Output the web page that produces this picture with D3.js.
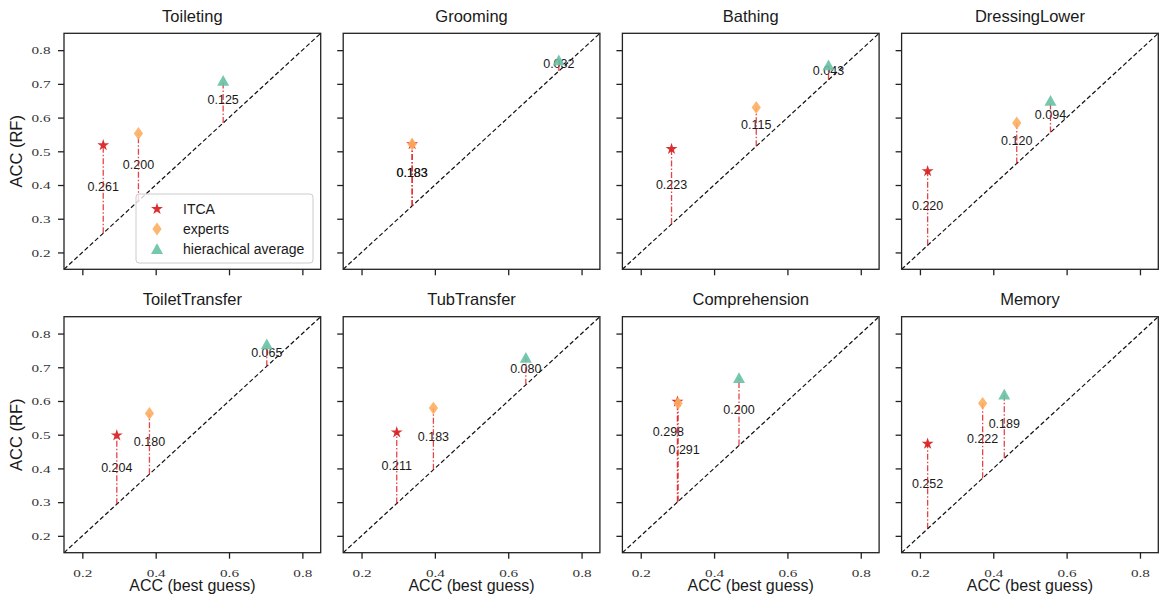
<!DOCTYPE html>
<html>
<head>
<meta charset="utf-8">
<script src="https://cdn.jsdelivr.net/npm/d3@7"></script>
<style>
  html, body { margin: 0; padding: 0; background: #fff; }
  svg { display: block; }
</style>
</head>
<body>
<svg id="chart" width="1160" height="605"></svg>
<script>
// ---------------- data ----------------
const categories = ["Toileting", "Grooming", "Bathing", "DressingLower",
                    "ToiletTransfer", "TubTransfer", "Comprehension", "Memory"];
const seriesNames = ["ITCA", "experts", "hierachical average"];

// x = ACC (best guess), y = ACC (RF)
const itcaX    = [0.257, 0.338, 0.284, 0.221, 0.294, 0.296, 0.300, 0.221];
const itcaY    = [0.518, 0.521, 0.507, 0.441, 0.498, 0.507, 0.598, 0.473];
const itcaDiff = ["0.261", "0.183", "0.223", "0.220", "0.204", "0.211", "0.298", "0.252"];

const expertsX    = [0.353, 0.338, 0.515, 0.464, 0.383, 0.396, 0.302, 0.371];
const expertsY    = [0.553, 0.521, 0.630, 0.584, 0.563, 0.579, 0.593, 0.593];
const expertsDiff = ["0.200", "0.183", "0.115", "0.120", "0.180", "0.183", "0.291", "0.222"];

const hierX    = [0.584, 0.738, 0.712, 0.556, 0.703, 0.648, 0.468, 0.430];
const hierY    = [0.709, 0.770, 0.755, 0.650, 0.768, 0.728, 0.668, 0.619];
const hierDiff = ["0.125", "0.032", "0.043", "0.094", "0.065", "0.080", "0.200", "0.189"];

const xTicks = [0.2, 0.4, 0.6, 0.8];
const yTicks = [0.2, 0.3, 0.4, 0.5, 0.6, 0.7, 0.8];
const axisDomain = [0.15, 0.85];
const xLabel = "ACC (best guess)";
const yLabel = "ACC (RF)";

// ---------------- layout / style ----------------
const colors = { ITCA: "#d7191c", experts: "#fdae61", hier: "#66c2a5" };
const panelW = 256.7, panelH = 236;
const lefts = [64, 343.2, 622.4, 901.6];
const tops = [33.3, 316.7];
const sans = "'Liberation Sans', Arial, Helvetica, sans-serif";
const serif = "'Liberation Serif', 'Times New Roman', serif";

const svg = d3.select("#chart");

const x = d3.scaleLinear().domain(axisDomain).range([0, panelW]);
const y = d3.scaleLinear().domain(axisDomain).range([panelH, 0]);

// marker paths
const starPath = d3.symbol().type(d3.symbolStar).size(44)();
const diamondPath = "M0,-6.4L4.6,0L0,6.4L-4.6,0Z";
const trianglePath = "M0,-5.8L6,5L-6,5Z";

const markerDefs = [
  { key: "ITCA", path: starPath, color: colors.ITCA },
  { key: "experts", path: diamondPath, color: colors.experts },
  { key: "hier", path: trianglePath, color: colors.hier }
];

categories.forEach((cat, i) => {
  const row = Math.floor(i / 4), col = i % 4;
  const g = svg.append("g").attr("transform", `translate(${lefts[col]},${tops[row]})`);
  const clipId = "clip" + i;
  g.append("clipPath").attr("id", clipId)
    .append("rect").attr("width", panelW).attr("height", panelH);

  // title
  g.append("text")
    .attr("x", panelW / 2).attr("y", -11.5)
    .attr("text-anchor", "middle")
    .attr("font-family", sans).attr("font-size", 16.5).attr("fill", "#1a1a1a")
    .text(cat);

  // axes
  const xAxis = d3.axisBottom(x).tickValues(xTicks).tickSize(6).tickPadding(4)
    .tickFormat(row === 1 ? d3.format(".1f") : () => "");
  const yAxis = d3.axisLeft(y).tickValues(yTicks).tickSize(6).tickPadding(7.5)
    .tickFormat(col === 0 ? d3.format(".1f") : () => "");

  const gx = g.append("g").attr("transform", `translate(0,${panelH})`).call(xAxis);
  const gy = g.append("g").call(yAxis);
  [gx, gy].forEach(a => {
    a.select(".domain").remove();
    a.selectAll(".tick line").attr("stroke", "#222").attr("stroke-width", 1.3);
    a.selectAll(".tick text")
      .attr("font-family", serif).attr("font-size", 10.5).attr("fill", "#333")
      .attr("textLength", 19).attr("lengthAdjust", "spacingAndGlyphs");
  });
  gx.selectAll(".tick text").attr("y", 17).attr("dy", "0.7em");
  gy.selectAll(".tick text").attr("dy", "0.36em");

  const plot = g.append("g").attr("clip-path", `url(#${clipId})`);

  // diagonal y = x
  plot.append("line")
    .attr("x1", x(axisDomain[0])).attr("y1", y(axisDomain[0]))
    .attr("x2", x(axisDomain[1])).attr("y2", y(axisDomain[1]))
    .attr("stroke", "#111").attr("stroke-width", 1.2)
    .attr("stroke-dasharray", "4.5,2.5");

  const pts = [
    { key: "ITCA", x: itcaX[i], y: itcaY[i], label: itcaDiff[i] },
    { key: "experts", x: expertsX[i], y: expertsY[i], label: expertsDiff[i] },
    { key: "hier", x: hierX[i], y: hierY[i], label: hierDiff[i] }
  ];

  // labels (placed at the midpoint of each residual; simple de-overlap)
  const placed = [];
  const labelOrder = [1, 2, 0];
  labelOrder.forEach(k => {
    const p = pts[k];
    let lx = x(p.x), ly = (y(p.x) + y(p.y)) / 2 - 2;
    const w = 31, h = 13;
    placed.forEach(q => {
      if (q.text !== p.label && Math.abs(q.x - lx) < w && Math.abs(q.y - ly) < h) {
        ly = q.y - 18; lx = lx - 9; q.x = q.x + 6;
      }
    });
    placed.push({ x: lx, y: ly, text: p.label });
  });
  plot.selectAll("text.diff").data(placed).join("text")
    .attr("class", "diff")
    .attr("x", d => d.x).attr("y", d => d.y)
    .attr("dominant-baseline", "central")
    .attr("text-anchor", "middle")
    .attr("font-family", sans).attr("font-size", 12.5).attr("fill", "#1a1a1a")
    .text(d => d.text);

  // residual lines
  plot.selectAll("line.res").data(pts).join("line")
    .attr("class", "res")
    .attr("x1", d => x(d.x)).attr("x2", d => x(d.x))
    .attr("y1", d => y(d.x)).attr("y2", d => y(d.y))
    .attr("stroke", "#e0141c").attr("stroke-opacity", 0.8)
    .attr("stroke-width", 1.3)
    .attr("stroke-dasharray", "6,2,1.5,2");

  // markers
  markerDefs.forEach(m => {
    const p = pts.find(d => d.key === m.key);
    plot.append("path")
      .attr("d", m.path)
      .attr("transform", `translate(${x(p.x)},${y(p.y)})`)
      .attr("fill", m.color).attr("fill-opacity", 0.9);
  });

  // frame
  g.append("rect").attr("width", panelW).attr("height", panelH)
    .attr("fill", "none").attr("stroke", "#222").attr("stroke-width", 1.3);

  // axis labels
  if (col === 0) {
    g.append("text")
      .attr("transform", `translate(${21.5 - lefts[0]},${panelH / 2}) rotate(-90)`)
      .attr("text-anchor", "middle")
      .attr("font-family", sans).attr("font-size", 16.5).attr("fill", "#1a1a1a")
      .text(yLabel);
  }
  if (row === 1) {
    g.append("text")
      .attr("x", panelW / 2).attr("y", 591 - tops[1])
      .attr("text-anchor", "middle")
      .attr("font-family", sans).attr("font-size", 16).attr("fill", "#1a1a1a")
      .text(xLabel);
  }

  // legend in first panel
  if (i === 0) {
    const lg = g.append("g").attr("transform", `translate(${136 - lefts[0]},${194 - tops[0]})`);
    lg.append("rect").attr("width", 177).attr("height", 69).attr("rx", 3)
      .attr("fill", "#fff").attr("fill-opacity", 0.8)
      .attr("stroke", "#cccccc").attr("stroke-width", 1);
    markerDefs.forEach((m, k) => {
      const cy = 15 + k * 20;
      lg.append("path").attr("d", m.path)
        .attr("transform", `translate(21,${cy})`)
        .attr("fill", m.color).attr("fill-opacity", 0.9);
      lg.append("text").attr("x", 47).attr("y", cy)
        .attr("dominant-baseline", "central")
        .attr("font-family", sans).attr("font-size", 14).attr("fill", "#1a1a1a")
        .text(seriesNames[k]);
    });
  }
});
</script>
</body>
</html>
